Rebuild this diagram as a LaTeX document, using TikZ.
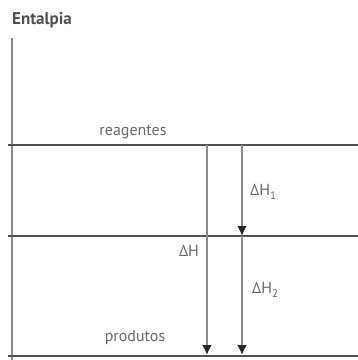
\documentclass[tikz,border=0pt]{standalone}
\usepackage{fontspec}
\setmainfont{PT Sans}
\usetikzlibrary{arrows.meta}
\definecolor{lvl}{HTML}{505050}
\definecolor{arr}{HTML}{8A8A8A}
\definecolor{txt}{HTML}{6A6A6A}
\newcommand{\lowsub}[1]{\raisebox{-4pt}{\fontsize{11}{12}\selectfont #1}}
\tikzset{
  level/.style={draw=lvl, line width=2.2pt},
  axisline/.style={draw=arr, line width=1.6pt},
  harrow/.style={draw=arr, line width=2pt, -{Latex[length=10pt,width=10pt,color=black!85]}},
  lbl/.style={text=txt, font=\fontsize{16}{19}\selectfont, inner sep=0pt},
}
\begin{document}
\begin{tikzpicture}[x=1pt,y=-1pt]
\useasboundingbox (0,0) rectangle (358,360);
\node[text=lvl, font=\bfseries\fontsize{17}{20}\selectfont, inner sep=0pt] (title) at (42,20) {Entalpia};
\coordinate (axtop) at (12,38);
\coordinate (axbot) at (12,360);
\draw[axisline] (axtop) -- (axbot);
\coordinate (r1) at (8,145); \coordinate (r2) at (358,145);
\coordinate (m1) at (8,236); \coordinate (m2) at (358,236);
\coordinate (p1) at (8,356); \coordinate (p2) at (358,356);
\draw[level] (r1) -- (r2);
\draw[level] (m1) -- (m2);
\draw[level] (p1) -- (p2);
\node[lbl] (reag) at (133,132) {reagentes};
\node[lbl] (prod) at (135,337) {produtos};
\coordinate (a1s) at (207,145); \coordinate (a1e) at (207,355);
\coordinate (b1s) at (242,145); \coordinate (b1e) at (242,236);
\coordinate (b2s) at (242,236); \coordinate (b2e) at (242,355);
\draw[harrow] (a1s) -- (a1e);
\draw[harrow] (b1s) -- (b1e);
\draw[harrow] (b2s) -- (b2e);
\node[lbl] (dh) at (189,251) {ΔH};
\node[lbl, anchor=west] (dh1) at (250,192) {ΔH\lowsub{1}};
\node[lbl, anchor=west] (dh2) at (252,290) {ΔH\lowsub{2}};
\end{tikzpicture}
\end{document}
